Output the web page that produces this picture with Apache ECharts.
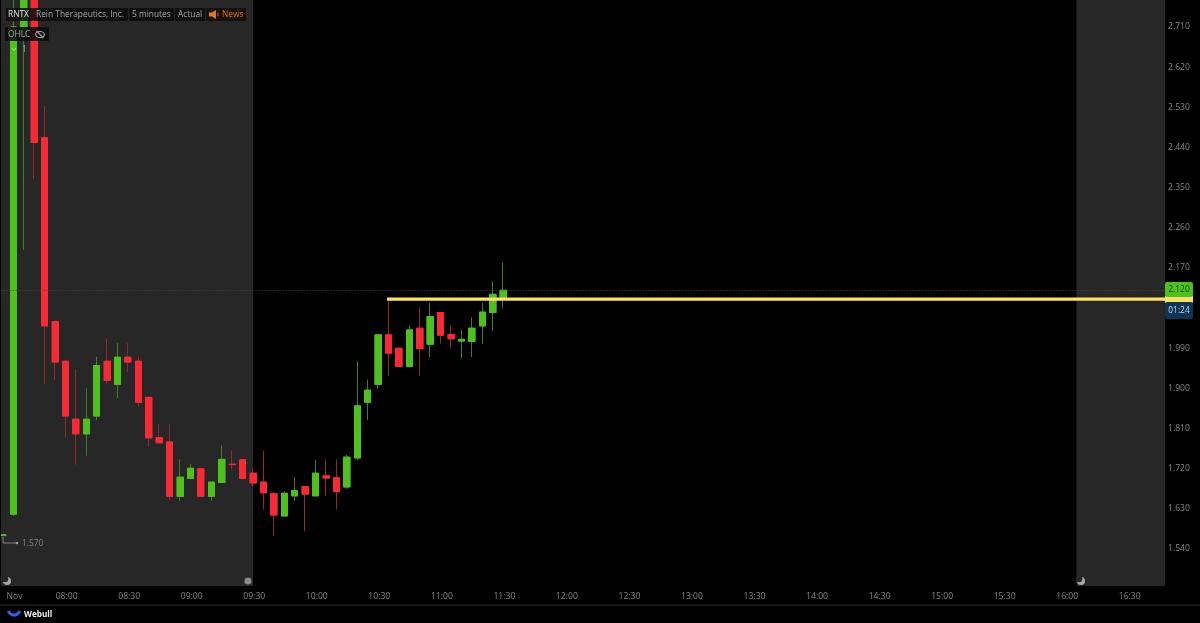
<!DOCTYPE html>
<html>
<head>
<meta charset="UTF-8">
<title>RNTX 5 minutes</title>
<style>
  html, body { margin: 0; padding: 0; background: #000; }
  #chart { width: 1200px; height: 623px; }
</style>
<script src="https://cdn.jsdelivr.net/npm/echarts@6/dist/echarts.min.js"></script>
</head>
<body>
<div id="chart"></div>
<script>
// five minute bars from 07:30 to 16:45, candles stop at 11:30
const categories = [];
for (let m = 450; m <= 1005; m += 5) {
  categories.push(String(Math.floor(m / 60)).padStart(2, "0") + ":" + String(m % 60).padStart(2, "0"));
}

const opens = [1.570, 1.618, 2.692, 2.850, 2.462, 2.050, 1.961, 1.831, 1.798, 1.838, 1.961, 1.909, 1.970, 1.961, 1.880, 1.790, 1.780, 1.658, 1.698, 1.720, 1.658, 1.689, 1.730, 1.740, 1.710, 1.690, 1.664, 1.614, 1.659, 1.680, 1.659, 1.704, 1.700, 1.679, 1.744, 1.869, 1.909, 2.020, 1.990, 1.949, 2.035, 1.999, 2.070, 2.021, 2.006, 2.005, 2.040, 2.070, 2.103];
const closes = [1.572, 2.710, 2.850, 2.451, 2.040, 1.959, 1.838, 1.798, 1.831, 1.951, 1.918, 1.970, 1.959, 1.869, 1.789, 1.778, 1.658, 1.701, 1.721, 1.658, 1.690, 1.741, 1.729, 1.698, 1.688, 1.666, 1.616, 1.665, 1.671, 1.663, 1.710, 1.699, 1.669, 1.746, 1.861, 1.896, 2.020, 1.979, 1.949, 2.031, 1.989, 2.061, 2.019, 2.011, 2.010, 2.035, 2.071, 2.111, 2.120];
const lows = [1.570, 1.614, 2.210, 2.369, 1.910, 1.919, 1.789, 1.729, 1.749, 1.829, 1.911, 1.878, 1.937, 1.859, 1.769, 1.778, 1.650, 1.648, 1.698, 1.658, 1.648, 1.689, 1.719, 1.698, 1.680, 1.629, 1.569, 1.614, 1.648, 1.579, 1.659, 1.659, 1.629, 1.675, 1.739, 1.829, 1.899, 1.928, 1.949, 1.949, 1.928, 1.970, 2.000, 1.989, 1.968, 1.970, 2.000, 2.029, 2.079];
const highs = [1.572, 2.800, 2.950, 2.920, 2.533, 2.050, 1.961, 1.943, 1.901, 1.971, 2.012, 2.001, 2.001, 1.971, 1.880, 1.820, 1.820, 1.741, 1.731, 1.720, 1.690, 1.772, 1.760, 1.740, 1.721, 1.760, 1.668, 1.669, 1.701, 1.680, 1.740, 1.741, 1.741, 1.751, 1.961, 1.920, 2.020, 2.100, 1.990, 2.041, 2.081, 2.091, 2.070, 2.041, 2.031, 2.059, 2.091, 2.141, 2.182];

const yTicks = [1.54, 1.63, 1.72, 1.81, 1.90, 1.99, 2.08, 2.17, 2.26, 2.35, 2.44, 2.53, 2.62, 2.71];
const xTickLabels = ["08:00", "08:30", "09:00", "09:30", "10:00", "10:30", "11:00", "11:30", "12:00", "12:30", "13:00", "13:30", "14:00", "14:30", "15:00", "15:30", "16:00", "16:30"];
const monthLabel = "Nov";
const monthAt = "07:35";

const sessionBands = [["07:30", "09:30"], ["16:05", "16:45"]];
const lastPrice = 2.120;
const levelStart = "10:35";
const levelPrice = 2.100;

const yMin = 1.4571;
const yMax = 2.7705;

const FONT = '"Open Sans", "Noto Sans", sans-serif';
const UP = "#4fc11c";
const DOWN = "#f92a36";
const UP_WICK = "#3f7f22";
const DOWN_WICK = "#93282f";
const SHADE = "#272727";

const wickData = opens.map((o, i) => [o, closes[i], lows[i], highs[i]]);
const bodyData = opens.map((o, i) => [o, closes[i], Math.min(o, closes[i]), Math.max(o, closes[i])]);

function label(text, x, y, fill, extra) {
  return {
    type: "text", z: 100,
    style: Object.assign({ text, x, y, fill, font: "8.4px " + FONT, verticalAlign: "middle" }, extra || {}),
    silent: true,
  };
}
function box(x, y, width, height, fill, r) {
  return { type: "rect", z: 99, silent: true, shape: { x, y, width, height, r: r || 0 }, style: { fill } };
}
// crescent, a light disc with a shade colored disc over it
function moon(cx, cy) {
  return [
    { type: "circle", z: 60, silent: true, shape: { cx, cy, r: 4 }, style: { fill: "#a8a8a8" } },
    { type: "circle", z: 61, silent: true, shape: { cx: cx - 2, cy: cy - 2, r: 3.3 }, style: { fill: SHADE } },
  ];
}

const overlay = [
  box(0, 0, 1, 586, "#000"),
  // toolbar on the top left
  box(6, 8, 27, 13, "rgba(12,12,12,0.85)", 1),
  box(33, 8, 95, 13, "rgba(12,12,12,0.85)", 1),
  box(129, 8, 45, 13, "rgba(12,12,12,0.85)", 1),
  box(175, 8, 30, 13, "rgba(12,12,12,0.85)", 1),
  box(206, 8, 40, 13, "rgba(22,14,8,0.9)", 1),
  label("RNTX", 8, 14.5, "#e6e6e6"),
  label("Rein Therapeutics, Inc.", 36, 14.5, "#a6a6a6"),
  label("5 minutes", 132, 14.5, "#a6a6a6"),
  label("Actual", 178, 14.5, "#a6a6a6"),
  label("News", 222, 14.5, "#d8701f"),
  {
    type: "polygon", z: 100, silent: true,
    shape: { points: [[209, 12.5], [212, 12.5], [216, 10], [216, 19], [212, 16.5], [209, 16.5]] },
    style: { fill: "#e07a20" },
  },
  { type: "line", z: 100, silent: true, shape: { x1: 218, y1: 12.5, x2: 218, y2: 16.5 }, style: { stroke: "#b8641c", lineWidth: 1 } },
  box(5, 27, 44, 14, "rgba(12,12,12,0.9)", 1),
  label("OHLC", 8, 34.5, "#a6a6a6"),
  { type: "ellipse", z: 100, silent: true, shape: { cx: 40, cy: 34.5, rx: 4.4, ry: 3 }, style: { fill: "none", stroke: "#a6a6a6", lineWidth: 1.1 } },
  { type: "line", z: 100, silent: true, shape: { x1: 36.5, y1: 31, x2: 43.5, y2: 38 }, style: { stroke: "#a6a6a6", lineWidth: 1.1 } },
  { type: "polyline", z: 100, silent: true, shape: { points: [[12, 48], [14, 50.5], [16, 48]] }, style: { stroke: "#a8e080", fill: "none", lineWidth: 1 } },
  label("1", 22, 49.5, "#a6a6a6"),
  // day low marker
  { type: "polyline", z: 60, silent: true, shape: { points: [[3, 537], [3, 543], [17, 543]] }, style: { stroke: "#9a9a9a", fill: "none", lineWidth: 0.8 } },
  { type: "circle", z: 60, silent: true, shape: { cx: 17, cy: 543, r: 1.3 }, style: { fill: "#9a9a9a" } },
  label("1.570", 22, 543.5, "#858585"),
  ...moon(7, 581),
  ...moon(1081, 581),
  { type: "circle", z: 60, silent: true, shape: { cx: 248, cy: 581, r: 3.6 }, style: { fill: "#8a8a8a" } },
  // price tags on the right
  box(1165, 296, 28, 7, "#f7e16e"),
  box(1165, 282, 28, 15, UP, 2),
  label("2.120", 1179, 290, "#1d3d10", { align: "center" }),
  box(1165, 302, 28, 17, "#0f3556", 2),
  label("01:24", 1179, 311, "#c6d3de", { align: "center" }),
  // footer
  box(0, 604.5, 1200, 1, "#2c2c2c"),
  {
    type: "arc", z: 100, silent: true,
    shape: { cx: 14, cy: 609, r: 6, startAngle: 0.1 * Math.PI, endAngle: 0.9 * Math.PI },
    style: { stroke: "#2a62f2", fill: "none", lineWidth: 3 },
  },
  label("Webull", 24, 614.5, "#f0f0f0", { font: "bold 8.2px " + FONT }),
];

const chart = echarts.init(document.getElementById("chart"), null, { renderer: "canvas" });

chart.setOption({
  animation: false,
  backgroundColor: "#000",
  // first band starts off canvas, so no bounds shrink here
  grid: { left: -2.3, top: 0, width: 1167.3, height: 586, containLabel: false, outerBoundsMode: "none" },
  xAxis: {
    type: "category",
    data: categories,
    axisLine: { show: false },
    axisTick: { show: false },
    splitLine: { show: false },
    axisLabel: {
      color: "#858585",
      fontFamily: FONT,
      fontSize: 8.6,
      margin: 6,
      padding: [0, 0, 0, 2.4],
      hideOverlap: false,
      interval: (i, v) => v === monthAt || xTickLabels.includes(v),
      formatter: v => (v === monthAt ? monthLabel : v),
    },
  },
  yAxis: {
    type: "value",
    position: "right",
    min: yMin,
    max: yMax,
    axisLine: { show: false },
    axisTick: { show: false },
    splitLine: { show: false },
    axisLabel: {
      color: "#858585",
      fontFamily: FONT,
      fontSize: 8.6,
      margin: 3,
      align: "left",
      padding: [4, 0, 0, 0],
      customValues: yTicks,
      formatter: v => v.toFixed(3),
    },
  },
  series: [
    {
      // shaded pre and after market
      type: "custom",
      z: 1,
      silent: true,
      data: sessionBands.map(b => [categories.indexOf(b[0]), yMax]),
      encode: { x: 0, y: 1 },
      renderItem(params, api) {
        const band = sessionBands[params.dataIndex];
        const cs = params.coordSys;
        const a = categories.indexOf(band[0]);
        const b = categories.indexOf(band[1]);
        const x0 = a === 0 ? cs.x : api.coord([a, yMax])[0];
        const x1 = b === categories.length - 1 ? cs.x + cs.width : api.coord([b, yMax])[0];
        return { type: "rect", shape: { x: x0, y: cs.y, width: x1 - x0, height: cs.height }, style: { fill: SHADE } };
      },
    },
    {
      // wick layer, body is drawn again on top in the bright color
      type: "candlestick",
      z: 2,
      silent: true,
      barWidth: 7,
      data: wickData,
      itemStyle: { color: UP_WICK, color0: DOWN_WICK, borderColor: UP_WICK, borderColor0: DOWN_WICK, borderWidth: 1 },
      markLine: {
        silent: true,
        symbol: "none",
        label: { show: false },
        lineStyle: { color: "#4a4a4a", type: [1, 2], width: 1 },
        data: [{ yAxis: lastPrice }],
      },
    },
    {
      type: "candlestick",
      z: 3,
      silent: true,
      barWidth: 6.5,
      data: bodyData,
      itemStyle: { color: UP, color0: DOWN, borderColor: UP, borderColor0: DOWN, borderWidth: 1 },
    },
    {
      // drawn level, runs to the price scale
      type: "custom",
      z: 4,
      silent: true,
      data: [[categories.indexOf(levelStart), levelPrice]],
      encode: { x: 0, y: 1 },
      renderItem(params, api) {
        const p = api.coord([api.value(0), api.value(1)]);
        const cs = params.coordSys;
        return {
          type: "line",
          shape: { x1: p[0] - 1.5, y1: p[1], x2: cs.x + cs.width, y2: p[1] },
          style: { stroke: "#fbe36a", lineWidth: 3.4 },
        };
      },
    },
  ],
  graphic: { elements: overlay },
});
</script>
</body>
</html>
